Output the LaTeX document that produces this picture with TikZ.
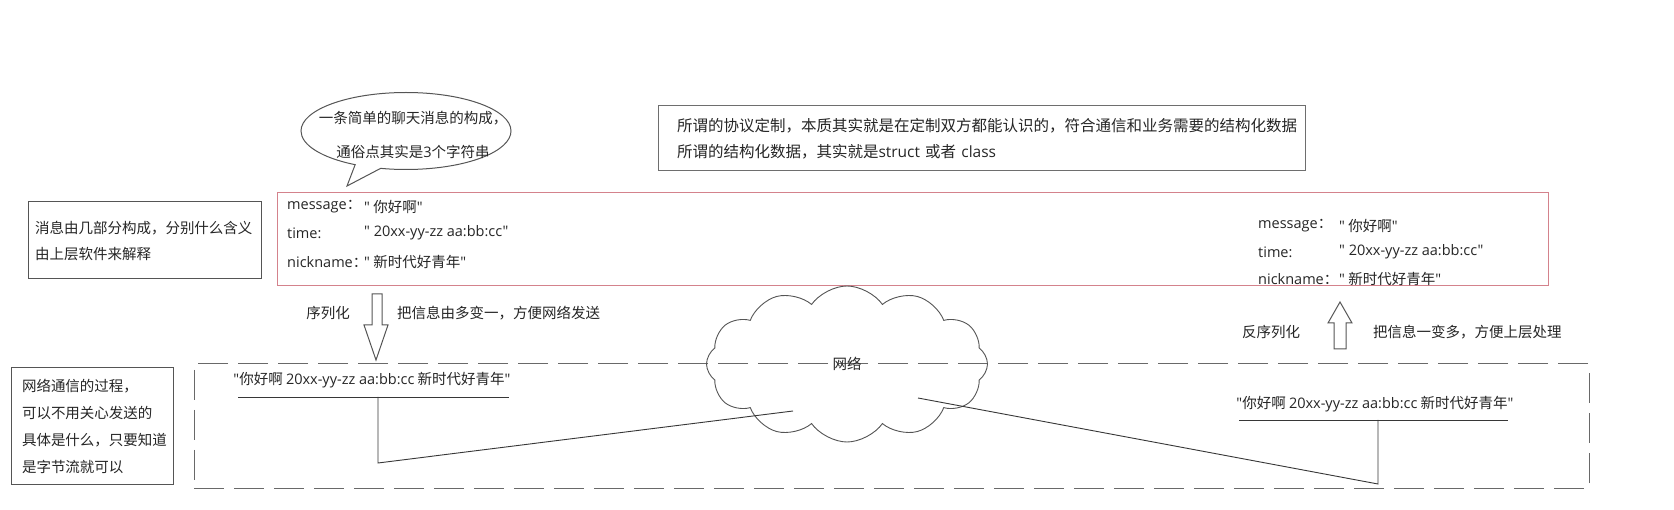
\documentclass[tikz,border=0pt]{standalone}
\usepackage{fontspec}
\setmainfont{Noto Sans CJK SC}
\newfontfamily\lat{Open Sans}
\newcommand{\qq}{{\lat"}}
\usetikzlibrary{shapes.symbols,shapes.callouts}
\definecolor{boxc}{RGB}{85,85,85}
\definecolor{topc}{RGB}{110,110,110}
\definecolor{redc}{RGB}{212,130,140}
\definecolor{dashc}{RGB}{105,105,105}
\definecolor{linec}{RGB}{55,55,55}
\begin{document}
\begin{tikzpicture}[x=1pt,y=-1pt,
  every node/.style={font=\fontsize{14.5}{17}\selectfont, inner sep=0pt, text=black!85},
  box/.style={draw=boxc, line width=1pt, align=left, inner ysep=0pt},
  lbl/.style={anchor=west},
  conn/.style={draw=linec, line width=0.9pt},
  arr/.style={draw=boxc, line width=1pt, fill=white, line join=miter}]
\useasboundingbox[fill=white] (0,0) rectangle (1674,510);

% left description boxes
\node[box, text width=219, inner xsep=7, minimum height=77, font=\fontsize{14.5}{26}\selectfont] (desc) at (144.5,240.5) {消息由几部分构成，分别什么含义\\由上层软件来解释};
\node[box, text width=140, inner xsep=11, minimum height=116, font=\fontsize{14.5}{27}\selectfont] (netdesc) at (92,426) {网络通信的过程，\\可以不用关心发送的\\具体是什么，只要知道\\是字节流就可以};

% top protocol box
\node[box, draw=topc, text width=609, inner xsep=19, minimum height=65, font=\fontsize{15.5}{26}\selectfont] (proto) at (981.5,138.5) {所谓的协议定制，本质其实就是在定制双方都能认识的，符合通信和业务需要的结构化数据\\所谓的结构化数据，其实就是{\lat struct} 或者 {\lat class}};

% speech bubble
\node[ellipse callout, draw=boxc, line width=1pt, minimum width=210, minimum height=77, callout absolute pointer={(347,186)}] (bubble) at (406,131) {};
\node[align=center, font=\fontsize{14.5}{34}\selectfont] (bubbletxt) at (413,135) {一条简单的聊天消息的构成，\\通俗点其实是{\lat 3}个字符串};

% red structured data box
\node[draw=redc, line width=1pt, minimum width=1271, minimum height=93] (data) at (912.5,239.5) {};
\node[lbl] (m1) at (287,207) {{\lat message}：};
\node[lbl] (m2) at (287,233) {\lat time:};
\node[lbl] (m3) at (287,262) {{\lat nickname}：};
\node[lbl] (v1) at (364,207) {\qq\ 你好啊\qq};
\node[lbl] (v2) at (364,233) {\lat " 20xx-yy-zz aa:bb:cc"};
\node[lbl] (v3) at (364,262) {\qq\ 新时代好青年\qq};
\node[lbl] (r1) at (1258,226) {{\lat message}：};
\node[lbl] (r2) at (1258,252) {\lat time:};
\node[lbl] (r3) at (1258,279) {{\lat nickname}：};
\node[lbl] (w1) at (1339,226) {\qq\ 你好啊\qq};
\node[lbl] (w2) at (1339,252) {\lat " 20xx-yy-zz aa:bb:cc"};
\node[lbl] (w3) at (1339,279) {\qq\ 新时代好青年\qq};

% dashed network box
\node[draw=dashc, line width=1pt, dash pattern=on 30pt off 10pt, minimum width=1395, minimum height=124] (wire) at (891.5,426) {};

% arrows
\draw[arr] (372,294) -- (382,294) -- (382,325) -- (388,325) -- (376,360) -- (364,325) -- (372,325) -- cycle;
\draw[arr] (1334,349) -- (1346,349) -- (1346,323) -- (1352,323) -- (1340,302) -- (1328,323) -- (1334,323) -- cycle;
\node (ser) at (328,313) {序列化};
\node[lbl] (sernote) at (397,313) {把信息由多变一，方便网络发送};
\node (deser) at (1271,332) {反序列化};
\node[lbl] (desernote) at (1373,332) {把信息一变多，方便上层处理};

% cloud
\node[cloud, draw=boxc, line width=0.9pt, cloud puffs=12, cloud puff arc=110, aspect=1.8, minimum width=281, minimum height=156] (net) at (847,364) {网络};

% byte strings
\node (sL) at (372,380) {\qq 你好啊 {\lat 20xx-yy-zz aa:bb:cc} 新时代好青年\qq};
\node (sR) at (1375,404) {\qq 你好啊 {\lat 20xx-yy-zz aa:bb:cc} 新时代好青年\qq};

\coordinate (uL1) at (238,397);
\coordinate (uL2) at (509,397);
\coordinate (vL) at (378,397);
\coordinate (kL) at (378,463);
\coordinate (cL) at (793,411);
\coordinate (cR) at (918,398);
\coordinate (kR) at (1378,484);
\coordinate (vR) at (1378,420);
\coordinate (uR1) at (1239,420);
\coordinate (uR2) at (1508,420);

\draw[conn] (uL1) -- (uL2);
\draw[conn] (vL) -- (kL) -- (cL);
\draw[conn] (cR) -- (kR) -- (vR);
\draw[conn] (uR1) -- (uR2);
\end{tikzpicture}
\end{document}
